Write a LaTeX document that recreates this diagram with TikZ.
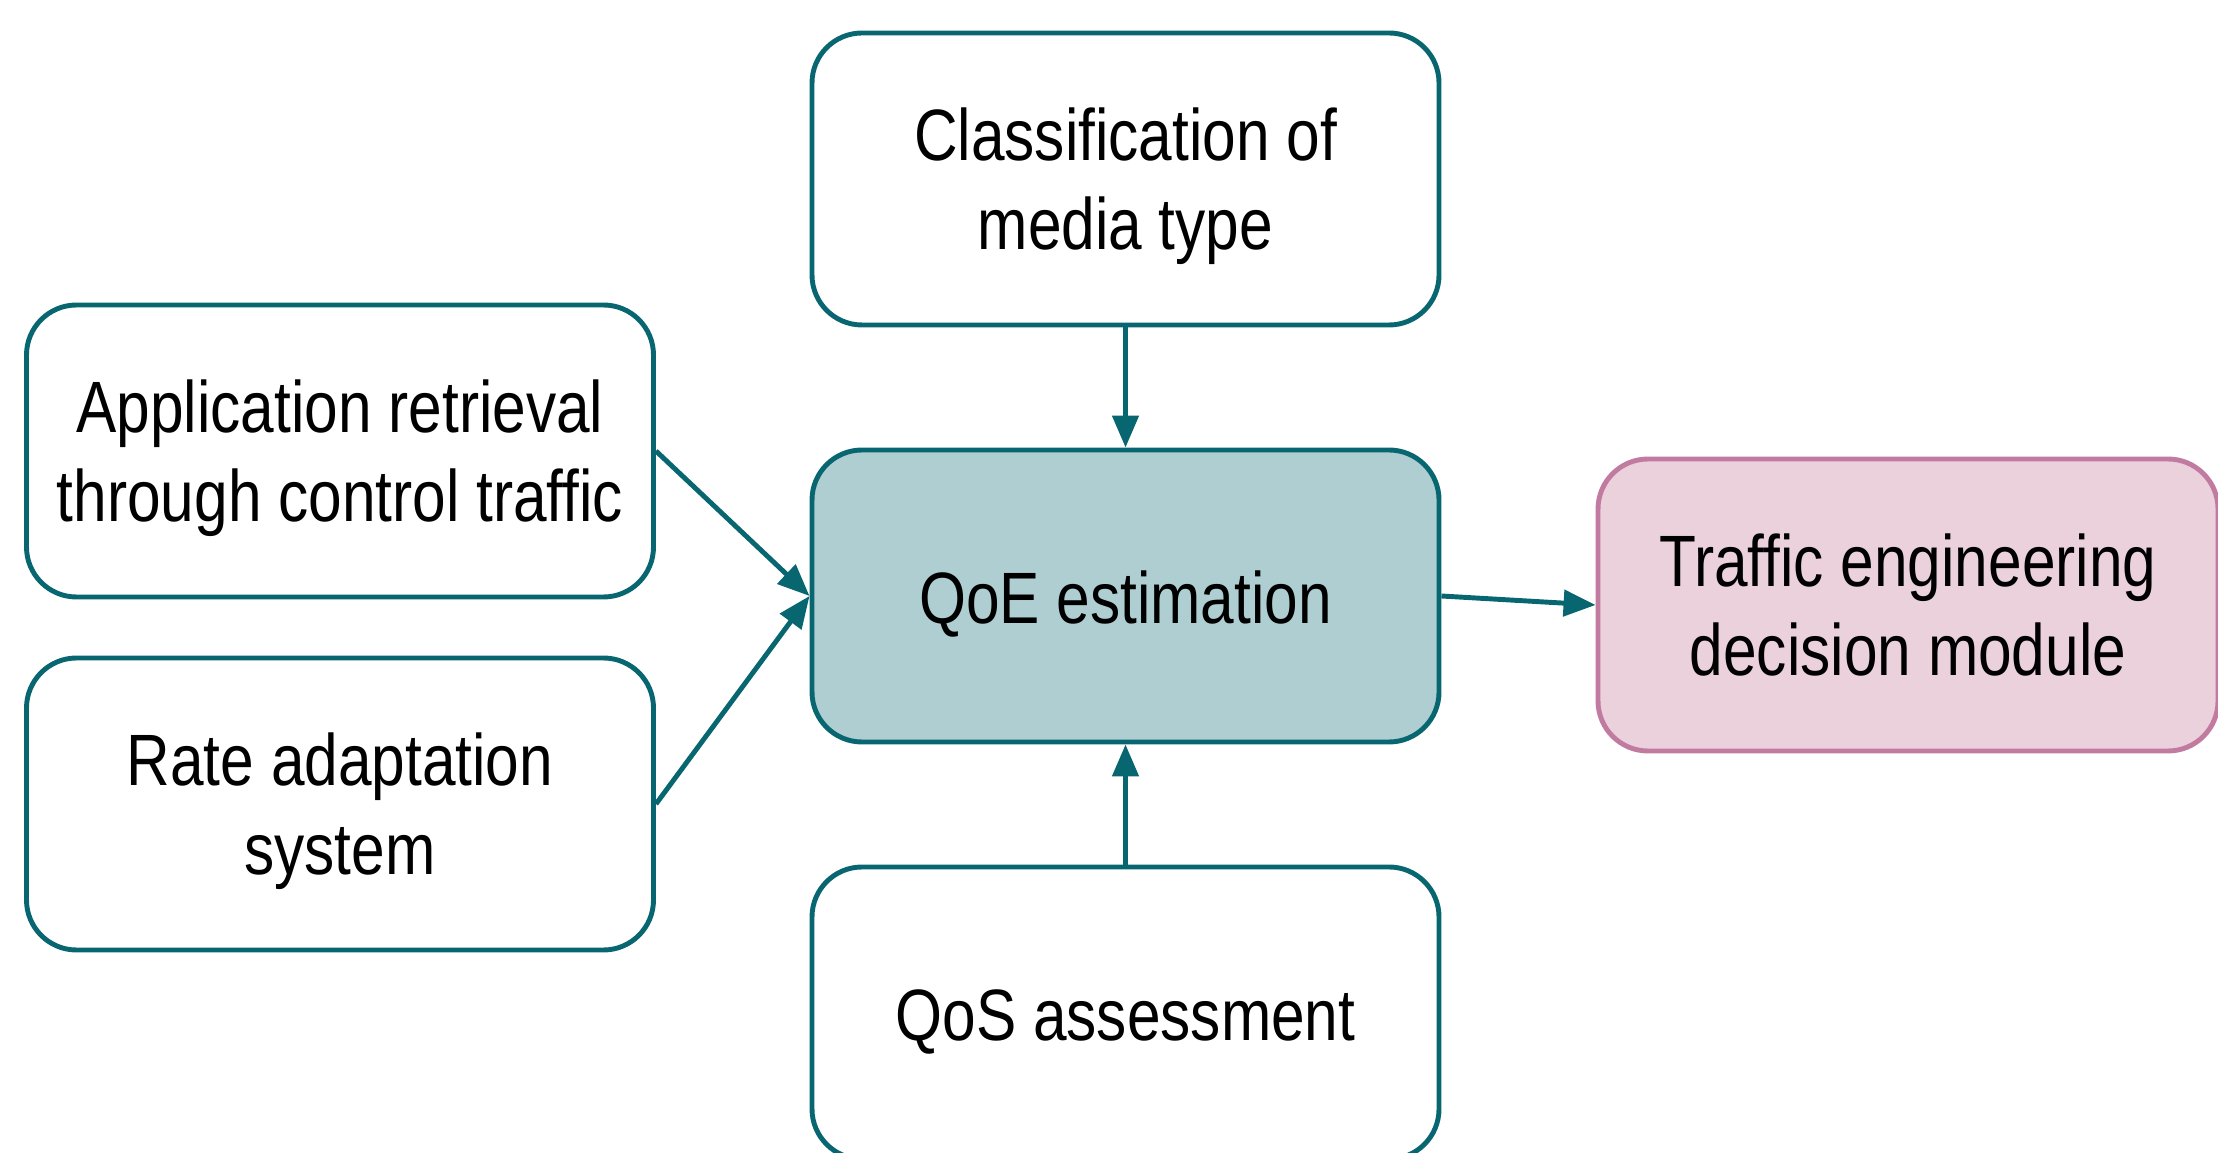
\documentclass[tikz,border=0pt]{standalone}
\usepackage{fontspec}
\setmainfont[FakeStretch=0.83]{Liberation Sans}
\usepackage{tikz}
\usetikzlibrary{arrows.meta, positioning}
\usepackage{xcolor}

\definecolor{tealline}{RGB}{8,102,112}
\definecolor{tealfill}{RGB}{175,206,210}
\definecolor{pinkline}{RGB}{194,123,160}
\definecolor{pinkfill}{RGB}{234,209,220}

% lifts the first line so the text sits a little lower in its box
\newcommand{\padtop}{\rule{0pt}{0.68cm}}

\begin{document}
\begin{tikzpicture}[
        box/.style={draw=tealline, fill=white, line width=1.4pt, rounded corners=0.5cm,
            minimum width=6.27cm, minimum height=2.92cm, align=center, inner sep=2pt,
            font=\fontsize{20.7}{25.3}\selectfont},
        flow/.style={-{Triangle[length=0.32cm, width=0.26cm]}, draw=tealline, line width=1.4pt}
    ]
        \useasboundingbox (0,0) rectangle (22.18,11.52);

        % inputs
        \node[box] (media) at (11.255, 9.73) {\padtop Classification of\\media type};
        \node[box] (app) at (3.40, 7.01) {\padtop Application retrieval\\through control traffic};
        \node[box] (rate) at (3.40, 3.48) {\padtop Rate adaptation\\system};
        \node[box] (qos) at (11.255, 1.39) {\padtop QoS assessment};

        % estimation and decision
        \node[box, fill=tealfill] (qoe) at (11.255, 5.56) {\padtop QoE estimation};
        \node[box, draw=pinkline, fill=pinkfill, minimum width=6.2cm] (te) at (19.08, 5.47) {Traffic engineering\\decision module};

        % arrows into the estimation
        \draw[flow] (media) -- (qoe);
        \draw[flow] (qos) -- (qoe);
        \draw[flow] (app.east) -- (qoe.west);
        \draw[flow] (rate.east) -- (qoe.west);
        \draw[flow] (qoe.east) -- (te.west);
    \end{tikzpicture}
\end{document}
